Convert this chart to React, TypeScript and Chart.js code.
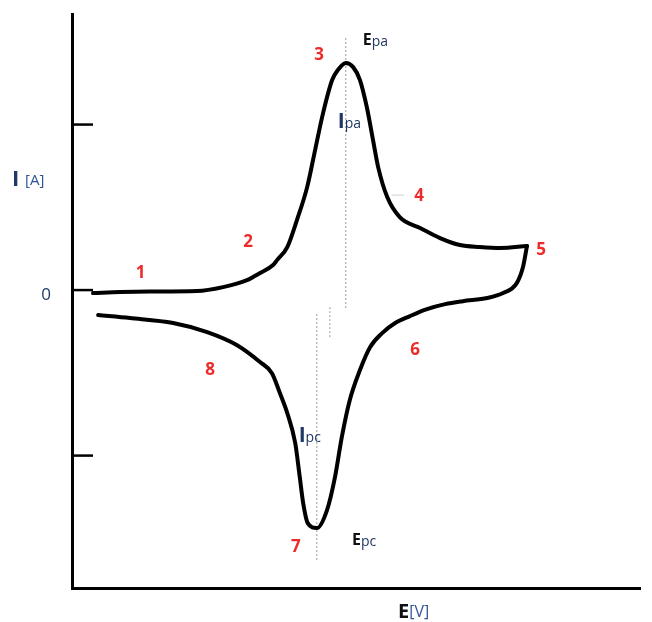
import React, { useEffect, useRef } from "react";
import { Chart, registerables } from "chart.js";

Chart.register(...registerables);

// Forward (anodic) scan: potential E (arbitrary units) and current I (arbitrary units)
const forwardE = [3.7, 8.5, 13.7, 22.0, 26.6, 30.8, 33.1, 35.4, 36.1, 37.9, 39.6, 41.4, 42.8, 44.2, 45.8, 46.8, 48.2, 49.5, 50.7, 51.9, 53.0, 53.9, 55.5, 57.7, 61.3, 64.8, 68.3, 71.8, 75.4, 80.1];
const forwardI = [-0.018, -0.012, -0.009, -0.006, 0.018, 0.06, 0.103, 0.151, 0.181, 0.26, 0.423, 0.622, 0.846, 1.069, 1.269, 1.329, 1.372, 1.347, 1.269, 1.106, 0.906, 0.743, 0.562, 0.441, 0.375, 0.314, 0.272, 0.26, 0.254, 0.266];

// Reverse (cathodic) scan
const reverseE = [80.1, 79.4, 78.3, 75.9, 73.1, 68.8, 65.7, 62.5, 59.5, 56.9, 54.6, 52.5, 50.7, 48.9, 47.5, 46.3, 44.9, 43.1, 41.5, 40.7, 40.1, 39.3, 37.9, 36.6, 35.2, 33.1, 29.0, 23.8, 17.8, 10.2, 4.6];
const reverseI = [0.266, 0.139, 0.042, -0.018, -0.048, -0.067, -0.085, -0.115, -0.157, -0.199, -0.26, -0.344, -0.483, -0.665, -0.888, -1.13, -1.329, -1.438, -1.408, -1.287, -1.13, -0.924, -0.743, -0.622, -0.502, -0.435, -0.332, -0.254, -0.199, -0.169, -0.151];

// Dotted guide lines (vertical): E position, top I, bottom I
const guideE = [48.2, 43.1, 45.4, 56.3];
const guideTop = [1.523, -0.145, -0.103, 0.574];
const guideBottom = [-0.115, -1.631, -0.29, 0.574];
const guideE2 = [48.2, 43.1, 45.4, 58.5];

// Y axis ticks
const yTickValues = [1, 0, -1];
const yTickLabels = ["", "0", ""];

// Numbered stages
const stepLabels = ["1", "2", "3", "4", "5", "6", "7", "8"];
const stepE = [12.1, 31.0, 43.5, 61.1, 82.6, 60.4, 39.4, 24.3];
const stepI = [0.1, 0.29, 1.42, 0.568, 0.242, -0.36, -1.553, -0.483];

// Peak annotations: main letter + subscript, anchored at left of letter
const peakMain = ["E", "I", "I", "E"];
const peakSub = ["pa", "pa", "pc", "pc"];
const peakE = [51.2, 46.8, 39.9, 49.3];
const peakI = [1.511, 1.015, -0.882, -1.511];

const NAVY = "#1F3864";
const BLUE = "#2E5597";
const RED = "#EE2B2B";

const cvPlugin = {
  id: "cvAnnotations",
  afterDatasetsDraw(chart: any) {
    const { ctx, chartArea } = chart;
    const xs = chart.scales.x;
    const ys = chart.scales.y;
    ctx.save();
    // inward y tick marks and labels
    yTickValues.forEach((v, i) => {
      const py = ys.getPixelForValue(v);
      ctx.strokeStyle = "#000";
      ctx.lineWidth = 2.5;
      ctx.beginPath();
      ctx.moveTo(chartArea.left, py);
      ctx.lineTo(chartArea.left + 21, py);
      ctx.stroke();
      if (yTickLabels[i]) {
        ctx.fillStyle = NAVY;
        ctx.font = "17px 'Open Sans', sans-serif";
        ctx.textAlign = "center";
        ctx.textBaseline = "middle";
        ctx.fillText(yTickLabels[i], chartArea.left - 26, py + 5);
      }
    });
    // numbered stages
    ctx.fillStyle = RED;
    ctx.font = "bold 17px 'Open Sans', sans-serif";
    ctx.textAlign = "center";
    ctx.textBaseline = "middle";
    stepLabels.forEach((t, i) => {
      ctx.fillText(t, xs.getPixelForValue(stepE[i]), ys.getPixelForValue(stepI[i]));
    });
    // peak labels
    ctx.textAlign = "left";
    peakMain.forEach((m, i) => {
      const px = xs.getPixelForValue(peakE[i]);
      const py = ys.getPixelForValue(peakI[i]);
      const isI = m === "I";
      ctx.fillStyle = isI ? NAVY : "#111";
      ctx.font = isI ? "bold 21px 'Open Sans', sans-serif" : "bold 16px 'Open Sans', sans-serif";
      ctx.fillText(m, px, py);
      const w = ctx.measureText(m).width;
      ctx.fillStyle = NAVY;
      ctx.font = "14px 'Open Sans', sans-serif";
      ctx.fillText(peakSub[i], px + w, py + 2);
    });
    // axis titles
    const yMid = (chartArea.top + chartArea.bottom) / 2;
    ctx.fillStyle = NAVY;
    ctx.font = "bold 22px 'Open Sans', sans-serif";
    ctx.fillText("I", chartArea.left - 60, yMid - 121);
    ctx.fillStyle = BLUE;
    ctx.font = "15px 'Open Sans', sans-serif";
    ctx.fillText("[A]", chartArea.left - 47, yMid - 120);

    const xMid = (chartArea.left + chartArea.right) / 2;
    ctx.fillStyle = "#111";
    ctx.font = "bold 20px 'Open Sans', sans-serif";
    ctx.fillText("E", xMid + 42, chartArea.bottom + 24);
    const ew = ctx.measureText("E").width;
    ctx.fillStyle = BLUE;
    ctx.font = "16px 'Open Sans', sans-serif";
    ctx.fillText("[V]", xMid + 42 + ew, chartArea.bottom + 24);
    ctx.restore();
  },
};

export default function App() {
  const ref = useRef<HTMLCanvasElement | null>(null);
  useEffect(() => {
    if (!ref.current) return;
    const curve = (es: number[], is: number[]) => es.map((e, i) => ({ x: e, y: is[i] }));
    const guides = guideE.map((e, i) => ({
      data: [
        { x: e, y: guideTop[i] },
        { x: guideE2[i], y: guideBottom[i] },
      ],
      showLine: true,
      borderColor: i === 3 ? "#d0d0d0" : "#9a9a9a",
      borderWidth: 1,
      borderDash: i === 3 ? [] : [2, 2],
      pointRadius: 0,
      tension: 0,
    }));
    const chart = new Chart(ref.current, {
      type: "scatter",
      data: {
        datasets: [
          {
            data: curve(forwardE, forwardI),
            showLine: true,
            borderColor: "#000",
            borderWidth: 4,
            pointRadius: 0,
            cubicInterpolationMode: "monotone",
            borderCapStyle: "round",
            borderJoinStyle: "round",
          } as any,
          {
            data: curve(reverseE, reverseI),
            showLine: true,
            borderColor: "#000",
            borderWidth: 4,
            pointRadius: 0,
            cubicInterpolationMode: "monotone",
            borderCapStyle: "round",
            borderJoinStyle: "round",
          } as any,
          ...guides,
        ],
      },
      options: {
        responsive: false,
        animation: false,
        layout: { padding: { left: 72, right: 12, top: 14, bottom: 34 } },
        plugins: { legend: { display: false }, tooltip: { enabled: false } },
        scales: {
          x: {
            type: "linear",
            min: 0,
            max: 100,
            ticks: { display: false },
            grid: { display: false, drawTicks: false },
            border: { display: true, color: "#000", width: 3 },
          },
          y: {
            type: "linear",
            min: -1.8,
            max: 1.668,
            ticks: { display: false },
            grid: { display: false, drawTicks: false },
            border: { display: true, color: "#000", width: 3 },
          },
        },
      },
      plugins: [cvPlugin],
    });
    return () => chart.destroy();
  }, []);
  return (
    <div style={{ position: "fixed", left: 0, top: 0, width: 652, height: 622, background: "#fff" }}>
      <canvas ref={ref} width={652} height={622} />
    </div>
  );
}
